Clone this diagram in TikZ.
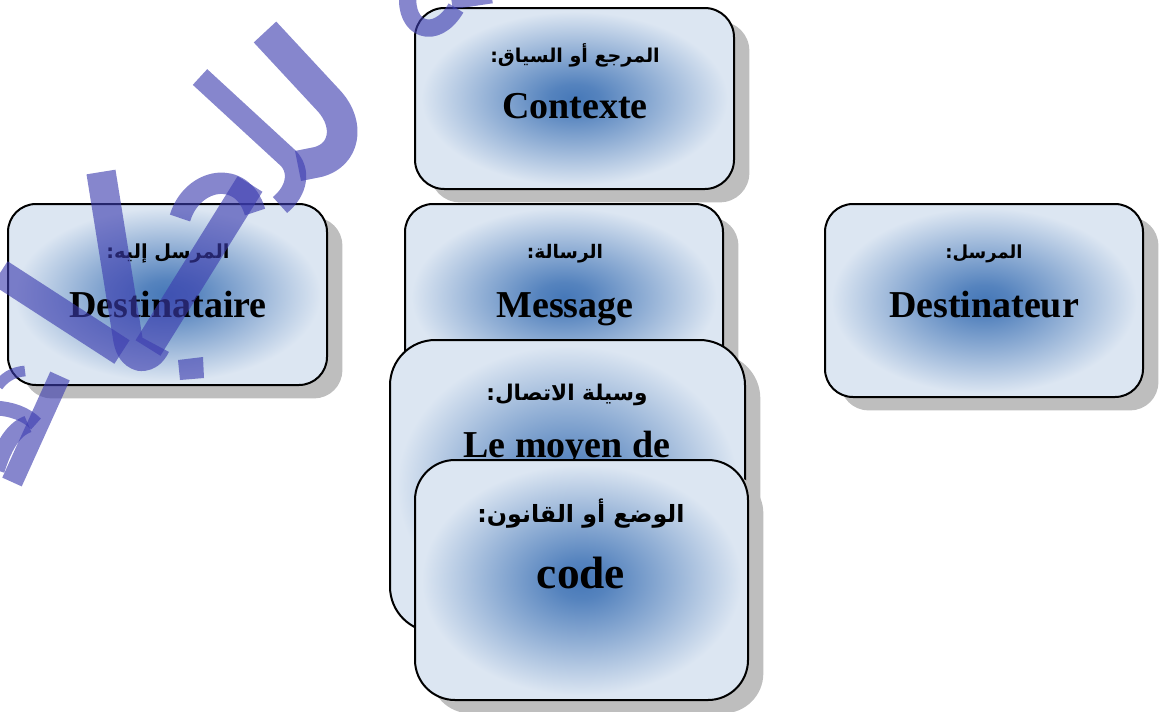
\documentclass[tikz,border=0pt]{standalone}
\usepackage{fontspec}
\setmainfont{Liberation Serif}
\newfontfamily\arabicfont[Script=Arabic]{DejaVu Sans}
\TeXXeTstate=1
\usetikzlibrary{shadows}

\definecolor{cardblue}{RGB}{70,120,184}
\definecolor{cardpale}{RGB}{220,230,242}
\definecolor{shadowgray}{RGB}{190,190,190}
\definecolor{inkpurple}{RGB}{60,60,175}

\pgfdeclareradialshading{cardshade}{\pgfpoint{0bp}{0bp}}{%
  color(0bp)=(cardblue); color(4bp)=(cardblue!90!cardpale);
  color(13bp)=(cardblue!50!cardpale); color(24bp)=(cardpale);
  color(50bp)=(cardpale)}

\tikzset{
  card/.style={draw=black, line width=1.5pt, shading=cardshade,
    inner sep=0pt, outer sep=0pt,
    drop shadow={shadow xshift=11.5pt, shadow yshift=-10pt,
      fill=shadowgray, draw=none, opacity=1}},
  artext/.style={font=\arabicfont\bfseries\fontsize{#1}{20}\selectfont,
    anchor=base, inner sep=0pt},
  artext/.default=15,
  frtext/.style={font=\bfseries\fontsize{28.5}{32}\selectfont, anchor=base, inner sep=0pt},
  ink/.style={draw=inkpurple, opacity=0.62, line cap=butt, line join=round},
  inkfill/.style={fill=inkpurple, opacity=0.62},
}

% box: name, left, top, right, bottom (pixel units), corner radius
\newcommand\cardbox[6]{%
  \node[card, rounded corners=#6,
    minimum width={(#4-#2)*0.75pt}, minimum height={(#5-#3)*0.75pt}]
    (#1) at ({(#2+#4)/2},{(#3+#5)/2}) {};}

\begin{document}
\begin{tikzpicture}[x=0.75pt, y=-0.75pt]
\useasboundingbox (0,0) rectangle (1163,711);

% context
\cardbox{ctx}{415}{8}{734}{189}{22pt}
\node[artext=14.3] (ctx-ar) at (575,62) {\beginR المرجع أو السياق:\endR};
\node[frtext] (ctx-fr) at (575,118) {Contexte};

% receiver
\cardbox{recv}{8}{204}{327}{385}{21pt}
\node[artext=14.5] (recv-ar) at (168,258) {\beginR المرسل إليه:\endR};
\node[frtext] (recv-fr) at (168,317) {Destinataire};

% message
\cardbox{msg}{405}{204}{723}{390}{21pt}
\node[artext=14] (msg-ar) at (565,258) {\beginR الرسالة:\endR};
\node[frtext] (msg-fr) at (565,317) {Message};

% sender
\cardbox{send}{825}{204}{1143}{397}{21pt}
\node[artext=13.5] (send-ar) at (984,258) {\beginR المرسل:\endR};
\node[frtext] (send-fr) at (984,317) {Destinateur};

% channel
\cardbox{chan}{390}{340}{745}{632}{34pt}
\node[artext=16.2] (chan-ar) at (567,400) {\beginR وسيلة الاتصال:\endR};
\node[frtext] (chan-fr) at (567,457) {Le moyen de};

% code
\cardbox{code}{415}{460}{748}{700}{30pt}
\node[artext=17.8] (code-ar) at (581,522) {\beginR الوضع أو القانون:\endR};
\node[frtext, font=\bfseries\fontsize{34}{38}\selectfont] (code-fr) at (581,588) {code};

% calligraphic stamp strokes
\draw[ink, line width=23pt] (265,32) -- (330,102) .. controls (350,125) and (345,155) .. (318,162) -- (298,166);
\draw[ink, line width=16pt] (200,77) -- (288,158) .. controls (300,170) and (298,190) .. (280,205);
\draw[ink, line width=16pt] (180,218) .. controls (192,178) and (242,168) .. (255,212);
\draw[ink, line width=22pt] (250,184) -- (148,348);
\draw[ink, line width=22pt] (101,172) -- (128,340) .. controls (132,360) and (148,362) .. (156,345);
\draw[ink, line width=21pt] (0,273) -- (122,352);
\fill[inkfill] (178,360) -- (203,357) -- (204,378) -- (180,380) -- cycle;
\draw[ink, line width=16pt] (60,376) -- (12,482);
\draw[ink, line width=8pt] (25,371) .. controls (12,372) and (4,378) .. (-2,386);
\draw[ink, line width=11pt] (-4,408) .. controls (12,409) and (26,414) .. (36,424);
\draw[ink, line width=13pt] (28,424) .. controls (12,430) and (3,448) .. (-4,470);
\draw[ink, line width=13pt] (408,-6) .. controls (404,30) and (436,42) .. (456,8);
\draw[ink, line width=8pt] (452,4) -- (492,-2);
\end{tikzpicture}
\end{document}
